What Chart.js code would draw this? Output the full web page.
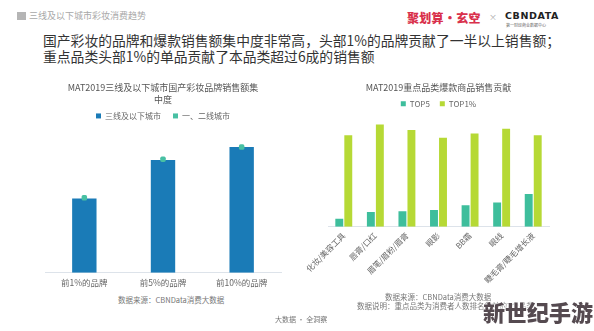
<!DOCTYPE html>
<html>
<head>
<meta charset="utf-8">
<script src="https://cdn.jsdelivr.net/npm/chart.js@4.4.1/dist/chart.umd.min.js"></script>
<style>
  html, body { margin: 0; padding: 0; background: #fff; }
  body { width: 594px; height: 331px; position: relative; overflow: hidden;
         font-family: "Noto Sans CJK SC", "Noto Sans", sans-serif; }
  .abs { position: absolute; white-space: nowrap; }
  .crumb { left: 17px; top: 10px; font-size: 9px; color: #a8a8a8; line-height: 12px; }
  .crumb i { display: inline-block; width: 9px; height: 8px; background: #b5b5b5; margin-right: 3px; vertical-align: -1px; }
  .brand { left: 407px; top: 10px; font-size: 12px; font-weight: 900; color: #d9314c; line-height: 16px; letter-spacing: 0.3px; }
  .times { left: 489px; top: 11px; font-size: 8px; color: #aaa; }
  .cbn { left: 505px; top: 10px; font-size: 9.5px; font-weight: 700; color: #222; line-height: 12px; letter-spacing: 0.6px; font-family: "DejaVu Sans", sans-serif; }
  .cbn-sub { left: 506px; top: 22px; font-size: 4px; color: #666; line-height: 6px; }
  .headline { left: 43px; top: 33px; font-size: 13.8px; color: #333; line-height: 15.5px; }
  .note { font-size: 7.5px; color: #777; line-height: 10px; }
  .mark { left: 483px; top: 296px; font-size: 22px; font-weight: 900; color: #554a50; line-height: 30px;
          text-shadow: 0 0 2px #fff, 0 0 3px #fff; }
  #left { position: absolute; left: 0; top: 78px; }
  #right { position: absolute; left: 297px; top: 78px; }
</style>
</head>
<body>
<div class="abs crumb"><i></i>三线及以下城市彩妆消费趋势</div>
<div class="abs brand">聚划算·玄空</div>
<div class="abs times">×</div>
<div class="abs cbn">CBNDATA</div>
<div class="abs cbn-sub">第一财经商业数据中心</div>
<div class="abs headline">国产彩妆的品牌和爆款销售额集中度非常高，头部1%的品牌贡献了一半以上销售额；<br>重点品类头部1%的单品贡献了本品类超过6成的销售额</div>

<canvas id="left" width="300" height="215"></canvas>
<canvas id="right" width="297" height="211"></canvas>

<div class="abs note" style="left:118px; top:295px;">数据来源：CBNData消费大数据</div>
<div class="abs note" style="left:385px; top:292px;">数据来源：CBNData消费大数据</div>
<div class="abs note" style="left:357px; top:301px;">数据说明：重点品类为消费者人数排名靠前的7个品类</div>
<div class="abs note" style="left:275px; top:314px; font-size:7px;">大数据 · 全洞察</div>
<div class="abs mark">新世纪手游</div>

<script>
// brand concentration: share of sales held by the top brands (%)
const brandTiers = ['前1%的品牌', '前5%的品牌', '前10%的品牌'];
const lowTierCities = [52, 79, 88];
const topTierCities = [52.5, 79.5, 88];

// key categories: sales share of hot items (%)
const categories = ['化妆/美容工具', '唇膏/口红', '眉笔/眉粉/眉膏', '眼影', 'BB霜', '眼线', '睫毛膏/睫毛增长液'];
const top5 = [5.6, 10.3, 10.9, 11.8, 15.1, 16.9, 22.9];
const top1pct = [64, 71.6, 67.8, 62.3, 65.3, 68.7, 64];

const FONT = '"Noto Sans CJK SC", "Noto Sans", sans-serif';
Chart.defaults.font.family = FONT;
Chart.defaults.color = '#666';

const hiddenY = (max) => ({ display: false, min: 0, max: max });

// plain square swatches, in dataset order
const squareLabels = chart => chart.data.datasets.map((ds, i) => ({
    text: ds.label,
    fillStyle: ds.backgroundColor,
    strokeStyle: ds.backgroundColor,
    lineWidth: 0,
    fontColor: '#666',
    hidden: false,
    datasetIndex: i
}));

new Chart(document.getElementById('left'), {
    type: 'bar',
    data: {
        labels: brandTiers,
        datasets: [
            {
                label: '三线及以下城市',
                data: lowTierCities,
                backgroundColor: '#1a7bb7',
                borderWidth: 0,
                barPercentage: 0.31,
                categoryPercentage: 1,
                order: 2
            },
            {
                type: 'line',
                label: '一、二线城市',
                data: topTierCities,
                showLine: false,
                backgroundColor: '#48c0a3',
                borderColor: '#48c0a3',
                borderWidth: 0,
                pointStyle: 'rectRounded',
                pointRadius: 3.2,
                pointHoverRadius: 3.2,
                order: 1
            }
        ]
    },
    options: {
        responsive: false,
        animation: false,
        layout: { padding: { left: 45, right: 19, top: 0, bottom: 0 } },
        plugins: {
            tooltip: { enabled: false },
            title: {
                display: true,
                text: ['MAT2019三线及以下城市国产彩妆品牌销售额集', '中度'],
                color: '#555',
                font: { size: 9, weight: 'normal', lineHeight: 1.33 },
                padding: { top: 4, bottom: -6 }
            },
            legend: {
                labels: {
                    boxWidth: 5, boxHeight: 5,
                    font: { size: 8 },
                    color: '#666',
                    padding: 12,
                    generateLabels: squareLabels
                }
            }
        },
        scales: {
            x: {
                grid: { display: false, drawTicks: false },
                border: { display: true, color: '#dde3ea' },
                ticks: { font: { size: 8.5 }, color: '#666', padding: 5 }
            },
            y: hiddenY(100)
        }
    }
});

new Chart(document.getElementById('right'), {
    type: 'bar',
    data: {
        labels: categories,
        datasets: [
            {
                label: 'TOP5',
                data: top5,
                backgroundColor: '#3ebe9c',
                borderWidth: 0,
                barPercentage: 0.88,
                categoryPercentage: 0.57
            },
            {
                label: 'TOP1%',
                data: top1pct,
                backgroundColor: '#b6d935',
                borderWidth: 0,
                barPercentage: 0.88,
                categoryPercentage: 0.57
            }
        ]
    },
    options: {
        responsive: false,
        animation: false,
        layout: { padding: { left: 31, right: 45, top: 0, bottom: 0 } },
        plugins: {
            tooltip: { enabled: false },
            title: {
                display: true,
                text: 'MAT2019重点品类爆款商品销售贡献',
                color: '#555',
                font: { size: 9, weight: 'normal' },
                padding: { top: 4, bottom: -3 }
            },
            legend: {
                labels: {
                    boxWidth: 5, boxHeight: 5,
                    font: { size: 8 },
                    color: '#666',
                    padding: 10,
                    generateLabels: squareLabels
                }
            }
        },
        scales: {
            x: {
                grid: { display: false, drawTicks: false },
                border: { display: true, color: '#dde3ea' },
                ticks: { font: { size: 8 }, color: '#666', padding: 4,
                         minRotation: 45, maxRotation: 45, autoSkip: false }
            },
            y: hiddenY(76.3)
        }
    }
});
</script>
</body>
</html>
